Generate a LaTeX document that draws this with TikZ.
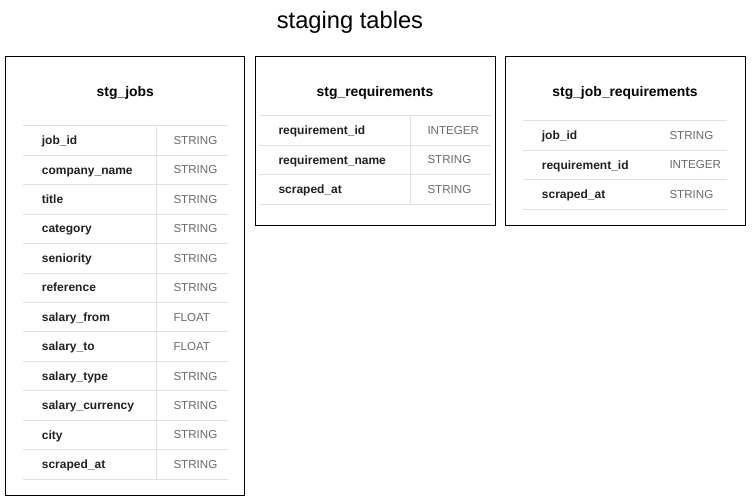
\documentclass[tikz,border=0pt]{standalone}
\usepackage{fontspec}
\setmainfont{Liberation Sans}
\definecolor{rule}{HTML}{E0E0E0}
\definecolor{nametext}{HTML}{202124}
\definecolor{typetext}{HTML}{6B6B6B}
\begin{document}
\begin{tikzpicture}[x=1pt,y=-1pt,
  tbox/.style={draw=black, line width=0.9pt, rectangle, inner sep=0pt},
  rowline/.style={draw=rule, line width=0.8pt},
  fname/.style={anchor=base west, inner sep=0pt, text=nametext, font=\fontsize{12}{14}\selectfont\bfseries},
  ftype/.style={anchor=base west, inner sep=0pt, text=typetext, font=\fontsize{11.6}{13}\selectfont},
  ttitle/.style={anchor=base, inner sep=0pt, text=black, font=\fontsize{13.9}{16}\selectfont\bfseries},
  maintitle/.style={anchor=base, inner sep=0pt, text=black, font=\fontsize{23.7}{26}\selectfont}]
\useasboundingbox (0,0) rectangle (752,501);
\fill[white] (0,0) rectangle (752,501);

\node[maintitle] (title) at (350,28.5) {staging tables};

% boxes
\node[tbox, minimum width=239pt, minimum height=439pt] (b1) at (124.5,275.5) {};
\node[tbox, minimum width=240pt, minimum height=169pt] (b2) at (375.5,140.5) {};
\node[tbox, minimum width=240pt, minimum height=169pt] (b3) at (625.5,140.5) {};

\node[ttitle] (t1) at (125.3,96) {stg\_jobs};
\node[ttitle] (t2) at (375,96) {stg\_requirements};
\node[ttitle] (t3) at (625,96) {stg\_job\_requirements};

% table 1
\def\dy{29.45}
\foreach \i/\n/\t in {0/job\_id/STRING,1/company\_name/STRING,2/title/STRING,3/category/STRING,
  4/seniority/STRING,5/reference/STRING,6/salary\_from/FLOAT,7/salary\_to/FLOAT,
  8/salary\_type/STRING,9/salary\_currency/STRING,10/city/STRING,11/scraped\_at/STRING}{
  \path[rowline] (22.7,{125.7+\dy*\i}) -- (228.3,{125.7+\dy*\i});
  \node[fname] (a\i n) at (41.7,{125.7+\dy*(\i+0.5)+4.2}) {\n};
  \node[ftype] (a\i t) at (173.3,{125.7+\dy*(\i+0.5)+4}) {\t};
}
\path[rowline] (22.7,{125.7+\dy*12}) -- (228.3,{125.7+\dy*12});
\path[rowline] (156.7,125.7) -- (156.7,{125.7+\dy*12});

% table 2
\def\dz{29.67}
\foreach \i/\n/\t in {0/requirement\_id/INTEGER,1/requirement\_name/STRING,2/scraped\_at/STRING}{
  \path[rowline] (259.3,{115.3+\dz*\i}) -- (490.7,{115.3+\dz*\i});
  \node[fname] (b\i n) at (278.3,{115.3+\dz*(\i+0.5)+4.2}) {\n};
  \node[ftype] (b\i t) at (427.3,{115.3+\dz*(\i+0.5)+4}) {\t};
}
\path[rowline] (259.3,{115.3+\dz*3}) -- (490.7,{115.3+\dz*3});
\path[rowline] (410.3,115.3) -- (410.3,{115.3+\dz*3});

% table 3
\foreach \i/\n/\t in {0/job\_id/STRING,1/requirement\_id/INTEGER,2/scraped\_at/STRING}{
  \path[rowline] (522.7,{120.3+\dz*\i}) -- (726.7,{120.3+\dz*\i});
  \node[fname] (c\i n) at (541.7,{120.3+\dz*(\i+0.5)+4.2}) {\n};
  \node[ftype] (c\i t) at (669.3,{120.3+\dz*(\i+0.5)+4}) {\t};
}
\path[rowline] (522.7,{120.3+\dz*3}) -- (726.7,{120.3+\dz*3});
\end{tikzpicture}
\end{document}
